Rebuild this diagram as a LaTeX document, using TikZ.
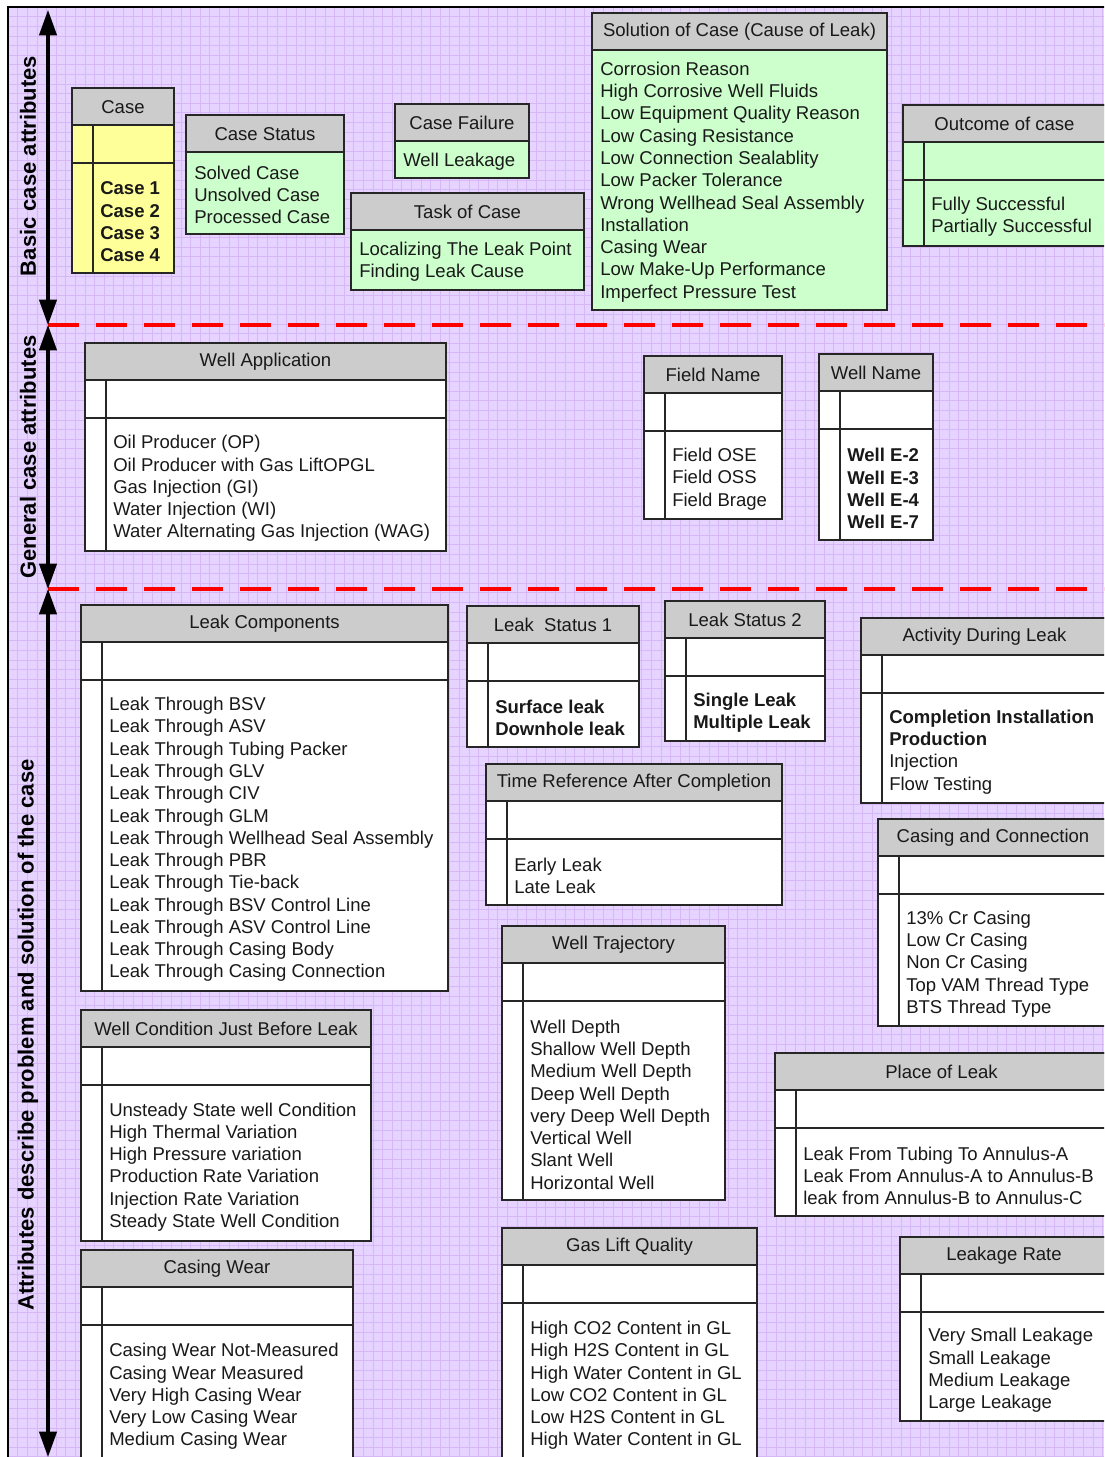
\documentclass[tikz,border=0pt]{standalone}
\usepackage{fontspec}
\setmainfont{Liberation Sans}
\usetikzlibrary{arrows.meta}

\definecolor{paper}{HTML}{E6D3FF}
\definecolor{gridpurple}{HTML}{D6B8F7}
\definecolor{headgray}{HTML}{CCCCCC}
\definecolor{caseyellow}{HTML}{FFFF99}
\definecolor{casegreen}{HTML}{CCFFCC}
\definecolor{dividerred}{HTML}{FF0000}

\newcommand{\tablefont}{\fontsize{13.9}{16.7}\selectfont}
\newcommand{\sidefont}{\fontsize{16.5}{20}\selectfont\bfseries}

\tikzset{
  tbl/.style={draw=black!85, line width=1.1pt},
  tbltitle/.style={font=\tablefont, text=black!90, anchor=center, inner sep=0pt},
  tblitems/.style={font=\tablefont, text=black!90, align=left, anchor=west, inner sep=0pt},
  axis/.style={line width=2.3pt, {Triangle[length=19pt,width=13pt]}-{Triangle[length=19pt,width=13pt]}},
  divider/.style={dividerred, line width=3pt, dash pattern=on 23.5pt off 12.5pt},
  sidelabel/.style={rotate=90, font=\sidefont, inner sep=0pt},
  gridline/.style={gridpurple, line width=0.4pt}
}

% table with a narrow key column: name, left, right, top, bottom, fill, title, items
\newcommand{\coltable}[8]{%
  \draw[tbl, fill=#6] (#2,#4) rectangle (#3,#5);
  \draw[tbl, fill=headgray] (#2,#4) rectangle (#3,{#4+37});
  \draw[tbl] (#2,{#4+75}) -- (#3,{#4+75});
  \draw[tbl] ({#2+21},{#4+37}) -- ({#2+21},#5);
  \node[tbltitle] (#1-title) at ({(#2+#3)/2},{#4+19}) {#7};
  \node[tblitems] (#1-items) at ({#2+28},{(#4+75+#5)/2+4}) {#8};
}

% plain green table: name, left, right, top, bottom, title, items
\newcommand{\plaintable}[7]{%
  \draw[tbl, fill=casegreen] (#2,#4) rectangle (#3,#5);
  \draw[tbl, fill=headgray] (#2,#4) rectangle (#3,{#4+37});
  \node[tbltitle] (#1-title) at ({(#2+#3)/2},{#4+19}) {#6};
  \node[tblitems] (#1-items) at ({#2+8},{(#4+37+#5)/2+2}) {#7};
}

\begin{document}
\begin{tikzpicture}[x=0.75pt, y=-0.75pt]
  \clip (0,0) rectangle (1104,1457);
  \fill[white] (0,0) rectangle (1104,1457);
  \fill[paper] (8,7) rectangle (1104,1457);
  \foreach \gx in {8,17.6,...,1104} \draw[gridline] (\gx,7) -- (\gx,1457);
  \foreach \gy in {7,16.6,...,1457} \draw[gridline] (8,\gy) -- (1104,\gy);
  \draw[black, line width=1.5pt] (8,1460) -- (8,7) -- (1110,7);

  % axis and dividers
  \coordinate (top) at (48,10);
  \coordinate (sep1) at (48,325);
  \coordinate (sep2) at (48,589);
  \coordinate (bottom) at (48,1457);
  \coordinate (sep1end) at (1104,325);
  \coordinate (sep2end) at (1104,589);
  \draw[divider] (sep1) -- (sep1end);
  \draw[divider] (sep2) -- (sep2end);
  \draw[axis] (top) -- (sep1);
  \draw[axis] (sep1) -- (sep2);
  \draw[axis] (sep2) -- (bottom);
  \node[sidelabel] (basic) at (28,166) {Basic case attributes};
  \node[sidelabel] (general) at (28,457) {General case attributes};
  \node[sidelabel] (problem) at (28,1035) {Attributes describe problem and solution of the case};

  % basic case attributes
  \coltable{case}{72}{174}{88}{273}{caseyellow}{Case}{\textbf{Case 1}\\\textbf{Case 2}\\\textbf{Case 3}\\\textbf{Case 4}}
  \plaintable{status}{186}{344}{115}{234}{Case Status}{Solved Case\\Unsolved Case\\Processed Case}
  \plaintable{failure}{395}{529}{104}{178}{Case Failure}{Well Leakage}
  \plaintable{task}{351}{584}{193}{290}{Task of Case}{Localizing The Leak Point\\Finding Leak Cause}
  \plaintable{solution}{592}{887}{13}{310}{Solution of Case (Cause of Leak)}{Corrosion Reason\\High Corrosive Well Fluids\\Low Equipment Quality Reason\\Low Casing Resistance\\Low Connection Sealablity\\Low Packer Tolerance\\Wrong Wellhead Seal Assembly\\Installation\\Casing Wear\\Low Make-Up Performance\\Imperfect Pressure Test}
  \coltable{outcome}{903}{1106}{105}{246}{casegreen}{Outcome of case}{Fully Successful\\Partially Successful}

  % general case attributes
  \coltable{wellapp}{85}{446}{343}{551}{white}{Well Application}{Oil Producer (OP)\\Oil Producer with Gas LiftOPGL\\Gas Injection (GI)\\Water Injection (WI)\\Water Alternating Gas Injection (WAG)}
  \coltable{field}{644}{782}{356}{519}{white}{Field Name}{Field OSE\\Field OSS\\Field Brage}
  \coltable{wellname}{819}{933}{354}{540}{white}{Well Name}{\textbf{Well E-2}\\\textbf{Well E-3}\\\textbf{Well E-4}\\\textbf{Well E-7}}

  % problem and solution attributes
  \coltable{leakcomp}{81}{448}{605}{991}{white}{Leak Components}{Leak Through BSV\\Leak Through ASV\\Leak Through Tubing Packer\\Leak Through GLV\\Leak Through CIV\\Leak Through GLM\\Leak Through Wellhead Seal Assembly\\Leak Through PBR\\Leak Through Tie-back\\Leak Through BSV Control Line\\Leak Through ASV Control Line\\Leak Through Casing Body\\Leak Through Casing Connection}
  \coltable{status1}{467}{639}{606}{747}{white}{Leak~~Status 1}{\textbf{Surface leak}\\\textbf{Downhole leak}}
  \coltable{status2}{665}{825}{601}{741}{white}{Leak Status 2}{\textbf{Single Leak}\\\textbf{Multiple Leak}}
  \coltable{activity}{861}{1108}{618}{803}{white}{Activity During Leak}{\textbf{Completion Installation}\\\textbf{Production}\\Injection\\Flow Testing}
  \coltable{timeref}{486}{782}{764}{905}{white}{Time Reference After Completion}{Early Leak\\Late Leak}
  \coltable{casingconn}{878}{1108}{819}{1026}{white}{Casing and Connection}{13\% Cr Casing\\Low Cr Casing\\Non Cr Casing\\Top VAM Thread Type\\BTS Thread Type}
  \coltable{wellcond}{81}{371}{1010}{1241}{white}{Well Condition Just Before Leak}{Unsteady State well Condition\\High Thermal Variation\\High Pressure variation\\Production Rate Variation\\Injection Rate Variation\\Steady State Well Condition}
  \coltable{trajectory}{502}{725}{926}{1200}{white}{Well Trajectory}{Well Depth\\Shallow Well Depth\\Medium Well Depth\\Deep Well Depth\\very Deep Well Depth\\Vertical Well\\Slant Well\\Horizontal Well}
  \coltable{place}{775}{1108}{1053}{1216}{white}{Place of Leak}{Leak From Tubing To Annulus-A\\Leak From Annulus-A to Annulus-B\\leak from Annulus-B to Annulus-C}
  \coltable{casingwear}{81}{353}{1250}{1460}{white}{Casing Wear}{Casing Wear Not-Measured\\Casing Wear Measured\\Very High Casing Wear\\Very Low Casing Wear\\Medium Casing Wear}
  \coltable{gaslift}{502}{757}{1228}{1460}{white}{Gas Lift Quality}{High CO2 Content in GL\\High H2S Content in GL\\High Water Content in GL\\Low CO2 Content in GL\\Low H2S Content in GL\\High Water Content in GL}
  \coltable{leakrate}{900}{1108}{1237}{1421}{white}{Leakage Rate}{Very Small Leakage\\Small Leakage\\Medium Leakage\\Large Leakage}
\end{tikzpicture}
\end{document}
